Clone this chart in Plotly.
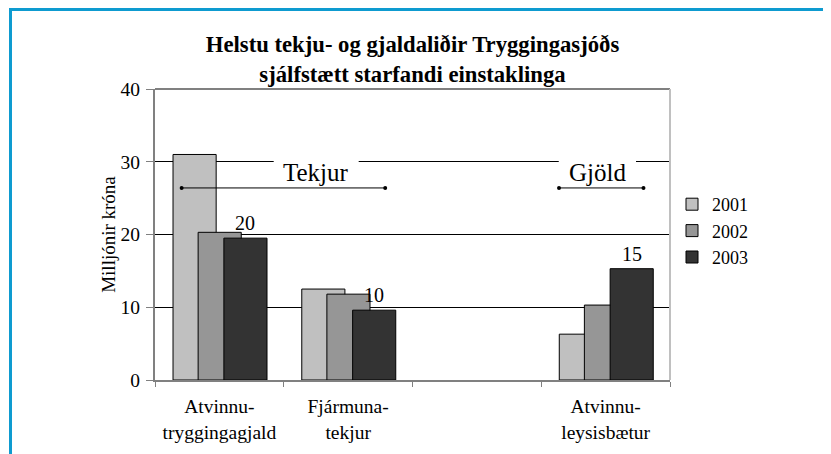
import plotly.graph_objects as go

# categories (third slot is the empty gap between income and expense)
categories = ["Atvinnu-<br>tryggingagjald", "Fjármuna-<br>tekjur", " ", "Atvinnu-<br>leysisbætur"]
years = ["2001", "2002", "2003"]
vals_2001 = [31.0, 12.5, None, 6.3]
vals_2002 = [20.3, 11.8, None, 10.3]
vals_2003 = [19.5, 9.6, None, 15.3]
bar_colors = ["#c0c0c0", "#969696", "#333333"]

FONT = "Times New Roman"
# the page body adds an 8px margin, so the figure is a bit smaller than the window
OFF = 8
W, H = 823, 446
L, R, T, B = 147, 161, 81, 74


def px_x(p):
    # page pixel -> paper coordinate
    return (p - OFF - L) / (W - L - R)


def px_y(p):
    return (H - B - (p - OFF)) / (H - T - B)


fig = go.Figure()

offsets = [-0.36, -0.165, 0.035]
bar_w = 0.335
for name, vals, col, off in zip(years, [vals_2001, vals_2002, vals_2003], bar_colors, offsets):
    fig.add_trace(go.Bar(
        x=categories, y=vals, name=name,
        marker=dict(color=col, line=dict(color="#000000", width=1)),
        width=bar_w, offset=off,
    ))

# value labels on the 2003 bars
for i, v in enumerate(vals_2003):
    if v is None:
        continue
    fig.add_annotation(x=i + offsets[2] + bar_w / 2, y=v, text=f"{round(v):d}",
                       showarrow=False, yanchor="bottom", yshift=2,
                       font=dict(family=FONT, size=20, color="#000000"))

# bracket lines for Tekjur / Gjöld (on a hidden linear axis matching the categories)
for xs in ([-0.293, 1.288], [2.638, 3.294]):
    fig.add_trace(go.Scatter(
        x=xs, y=[26.4, 26.4], xaxis="x2", mode="lines+markers",
        line=dict(color="#000000", width=1), marker=dict(size=4, color="#000000"),
        showlegend=False, hoverinfo="skip"))

# group captions, with a white gap cut out of the 30 gridline behind them
for label, cx, half in (("Tekjur", 0.752, 0.33), ("Gjöld", 2.936, 0.30)):
    fig.add_shape(type="rect", xref="x2", yref="y", x0=cx - half, x1=cx + half,
                  y0=29.4, y1=30.6, fillcolor="#ffffff", line=dict(width=0))
    fig.add_annotation(x=cx, y=28.55, xref="x2", text=label, showarrow=False,
                       font=dict(family=FONT, size=25, color="#000000"))

# plot frame: dark top, light right
fig.add_shape(type="line", xref="paper", yref="paper", x0=0, x1=1, y0=1, y1=1,
              line=dict(color="#808080", width=2))
fig.add_shape(type="line", xref="paper", yref="paper", x0=1, x1=1, y0=0, y1=1,
              line=dict(color="#c0c0c0", width=2))

# blue page border (top and left)
fig.add_shape(type="line", xref="paper", yref="paper",
              x0=px_x(9), x1=px_x(831), y0=px_y(9.5), y1=px_y(9.5),
              line=dict(color="#0e9bd0", width=3))
fig.add_shape(type="line", xref="paper", yref="paper",
              x0=px_x(10.5), x1=px_x(10.5), y0=px_y(8), y1=px_y(454),
              line=dict(color="#0e9bd0", width=3))

fig.update_layout(
    width=W, height=H,
    margin=dict(l=L, r=R, t=T, b=B, autoexpand=False),
    barmode="overlay",
    paper_bgcolor="#ffffff", plot_bgcolor="#ffffff",
    font=dict(family=FONT, size=19, color="#000000"),
    title=dict(
        text="<b>Helstu tekju- og gjaldaliðir Tryggingasjóðs<br>sjálfstætt starfandi einstaklinga</b>",
        x=0.5, xref="paper", y=1 - (52 - OFF) / H, yref="container", yanchor="middle",
        font=dict(family=FONT, size=22.7, color="#000000"),
    ),
    legend=dict(
        x=px_x(672), y=px_y(186), xanchor="left", yanchor="top",
        font=dict(family=FONT, size=18), tracegroupgap=0,
    ),
    xaxis=dict(
        type="category", showgrid=False, tickson="boundaries",
        ticks="outside", ticklen=5, tickcolor="#808080",
        showline=True, linecolor="#808080", linewidth=2,
        tickfont=dict(family=FONT, size=19.5),
        ticklabelstandoff=8, automargin=False,
        range=[-0.5, 3.5],
    ),
    xaxis2=dict(overlaying="x", range=[-0.5, 3.5], visible=False),
    yaxis=dict(
        range=[0, 40], dtick=10, showgrid=True, gridcolor="#000000", gridwidth=1,
        ticks="outside", ticklen=7, tickcolor="#808080",
        showline=True, linecolor="#808080", linewidth=2,
        zeroline=False, automargin=False,
        tickfont=dict(family=FONT, size=19.5),
        ticklabelstandoff=2,
        title=dict(text="Milljónir króna", font=dict(family=FONT, size=19), standoff=0),
    ),
)

fig.write_html("out.html")
